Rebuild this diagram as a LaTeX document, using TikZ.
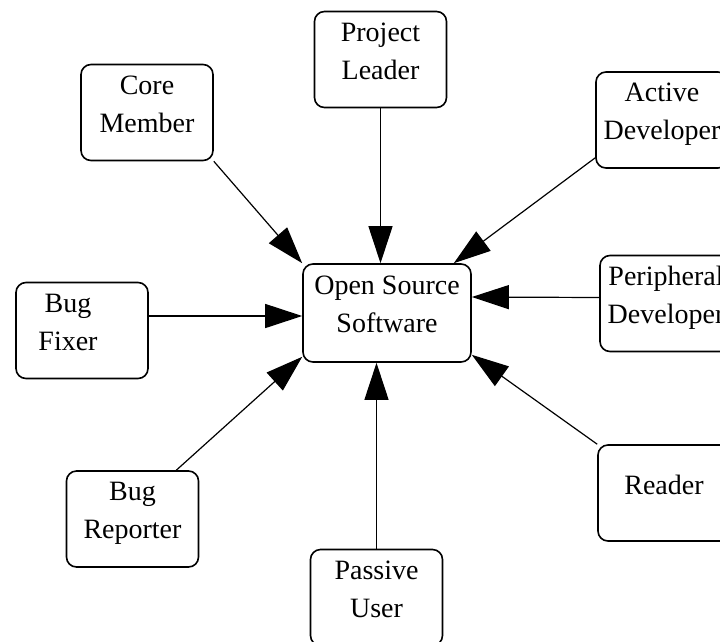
\documentclass[tikz,border=0pt]{standalone}
\usepackage{fontspec}
\setmainfont{Liberation Serif}
\usetikzlibrary{arrows.meta}
\usetikzlibrary{positioning}

\begin{document}
\begin{tikzpicture}[x=1pt, y=-1pt,
  role/.style={draw, line width=1.6pt, rounded corners=10pt, minimum width=132pt,
    minimum height=96pt, align=center, text depth=17pt,
    font=\fontsize{28}{38}\selectfont},
  feeds/.style={-{Triangle[length=37pt, width=24pt]}, line width=1.2pt}]

  \clip (0,0) rectangle (720,641);

  % the project in the middle
  \node[role, minimum width=168pt, minimum height=98pt] (oss) at (387,313) {Open Source\\Software};

  % the roles round it
  \node[role] (leader)  at (380.5,59.5) {Project\\Leader};
  \node[role] (core)    at (147,112.5)  {Core\\Member};
  \node[role] (active)  at (662,120)    {Active\\Developer};
  \node[role] (peri)    at (666,303.5)  {Peripheral\\Developer};
  \node[role] (fixer)   at (82,330.5)   {Bug\hspace*{28pt}\\Fixer\hspace*{28pt}};
  \node[role] (reporter) at (132.5,519) {Bug\\Reporter};
  \node[role] (reader)  at (664,493)    {Reader};
  \node[role] (passive) at (376.5,597.5) {Passive\\User};

  \draw[feeds] (leader) -- (leader |- oss.north);
  \draw[feeds] (passive) -- (passive |- oss.south);
  \draw[feeds] (core.south east) -- (oss.north west);
  \draw[feeds] ([yshift=11pt]active.south west) -- ([xshift=-18pt]oss.north east);
  \draw[feeds] ([yshift=6pt]peri.west) -- ([yshift=16pt]oss.east);
  \draw[feeds] ([yshift=14.5pt]fixer.east) -- ([yshift=-3pt]oss.west);
  \draw[feeds] ([xshift=-23pt]reporter.north east) -- ([yshift=6pt]oss.south west);
  \draw[feeds] (reader.north west) -- ([yshift=8pt]oss.south east);
\end{tikzpicture}
\end{document}
